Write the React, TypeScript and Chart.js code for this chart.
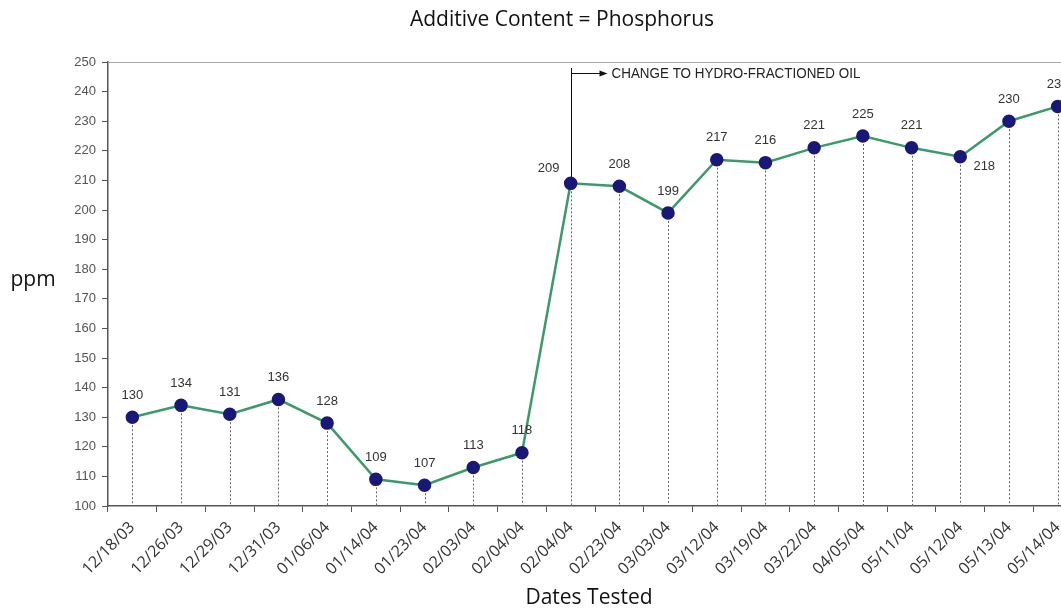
import React, { useEffect, useRef } from "react";
import { Chart, registerables } from "chart.js";

Chart.register(...registerables);

const categories = [
  "12/18/03", "12/26/03", "12/29/03", "12/31/03", "01/06/04", "01/14/04", "01/23/04",
  "02/03/04", "02/04/04", "02/04/04", "02/23/04", "03/03/04", "03/12/04", "03/19/04",
  "03/22/04", "04/05/04", "05/11/04", "05/12/04", "05/13/04", "05/14/04",
];
const phosphorus = [130, 134, 131, 136, 128, 109, 107, 113, 118, 209, 208, 199, 217, 216, 221, 225, 221, 218, 230, 235];
const yTicks = [100, 110, 120, 130, 140, 150, 160, 170, 180, 190, 200, 210, 220, 230, 240, 250];
const changeIndex = 9;
const changeLabel = "CHANGE TO HYDRO-FRACTIONED OIL";
const titleText = "Additive Content = Phosphorus";
const yTitle = "ppm";
const xTitle = "Dates Tested";

const FONT = "'Open Sans', 'DejaVu Sans', sans-serif";
const SMALL = "'Liberation Sans', Arial, sans-serif";

const overlay = {
  id: "overlay",
  beforeDatasetsDraw(chart: any) {
    const ctx = chart.ctx;
    const meta = chart.getDatasetMeta(0);
    const area = chart.chartArea;
    ctx.save();
    ctx.strokeStyle = "#666";
    ctx.lineWidth = 1;
    ctx.setLineDash([2, 2]);
    meta.data.forEach((pt: any) => {
      ctx.beginPath();
      ctx.moveTo(Math.round(pt.x) + 0.5, pt.y);
      ctx.lineTo(Math.round(pt.x) + 0.5, area.bottom);
      ctx.stroke();
    });
    ctx.setLineDash([]);
    // top border
    ctx.strokeStyle = "#aaa";
    ctx.beginPath();
    ctx.moveTo(area.left, area.top + 0.5);
    ctx.lineTo(area.right, area.top + 0.5);
    ctx.stroke();
    // annotation
    const p = meta.data[changeIndex];
    const x = Math.round(p.x) + 0.5;
    ctx.strokeStyle = "#111";
    ctx.beginPath();
    ctx.moveTo(x, area.top + 6);
    ctx.lineTo(x, p.y);
    ctx.stroke();
    const ay = area.top + 11.5;
    ctx.beginPath();
    ctx.moveTo(x, ay);
    ctx.lineTo(x + 30, ay);
    ctx.stroke();
    ctx.fillStyle = "#111";
    ctx.beginPath();
    ctx.moveTo(x + 36, ay);
    ctx.lineTo(x + 28, ay - 3);
    ctx.lineTo(x + 28, ay + 3);
    ctx.closePath();
    ctx.fill();
    ctx.font = `15px ${SMALL}`;
    ctx.textAlign = "left";
    ctx.textBaseline = "middle";
    ctx.fillStyle = "#222";
    ctx.translate(x + 40, ay);
    ctx.scale(0.895, 1);
    ctx.fillText(changeLabel, 0, 0);
    ctx.restore();
  },
  afterDatasetsDraw(chart: any) {
    const ctx = chart.ctx;
    const meta = chart.getDatasetMeta(0);
    ctx.save();
    ctx.font = `13px ${SMALL}`;
    ctx.fillStyle = "#333";
    ctx.textBaseline = "middle";
    ctx.textAlign = "center";
    meta.data.forEach((pt: any, i: number) => {
      const v = String(phosphorus[i]);
      if (i === changeIndex) {
        ctx.fillText(v, pt.x - 22, pt.y - 15);
      } else if (i === 17) {
        ctx.fillText(v, pt.x + 24, pt.y + 10);
      } else {
        ctx.fillText(v, pt.x, pt.y - 22);
      }
    });
    ctx.restore();
  },
  afterDraw(chart: any) {
    const ctx = chart.ctx;
    ctx.save();
    ctx.fillStyle = "#111";
    ctx.textBaseline = "middle";
    ctx.textAlign = "center";
    ctx.font = `21px ${FONT}`;
    ctx.fillText(titleText, 562, 20);
    ctx.fillText(yTitle, 33, 280);
    ctx.fillText(xTitle, 589, 598);
    ctx.restore();
  },
};

export default function App() {
  const ref = useRef<HTMLCanvasElement | null>(null);
  useEffect(() => {
    if (!ref.current) return;
    const chart = new Chart(ref.current, {
      type: "line",
      data: {
        labels: categories,
        datasets: [
          {
            data: phosphorus,
            borderColor: "#3a9a68",
            borderWidth: 2.5,
            pointBackgroundColor: "#1a1877",
            pointBorderColor: "#1a1877",
            pointRadius: 5.5,
            tension: 0,
          },
        ],
      },
      options: {
        animation: false,
        responsive: false,
        devicePixelRatio: 1,
        layout: { padding: { top: 62, left: 0, right: 8, bottom: 0 } },
        plugins: { legend: { display: false }, title: { display: false }, tooltip: { enabled: false } },
        scales: {
          x: {
            type: "category",
            offset: true,
            afterFit: (s: any) => { s.height = 105; },
            grid: { offset: true, drawOnChartArea: false, drawTicks: true, tickLength: 6, color: "#555" },
            border: { color: "#555", width: 1.5 },
            ticks: {
              autoSkip: false,
              minRotation: 45,
              maxRotation: 45,
              color: "#333",
              font: { family: FONT, size: 16 },
              padding: 6,
            },
          },
          y: {
            min: 100,
            max: 250,
            afterFit: (s: any) => { s.width = 108; },
            afterBuildTicks: (s: any) => { s.ticks = yTicks.map((v) => ({ value: v })); },
            grid: { drawOnChartArea: false, drawTicks: true, tickLength: 6, color: "#555" },
            border: { color: "#555", width: 1.5 },
            ticks: { color: "#555", font: { family: SMALL, size: 13 }, padding: 6 },
          },
        },
      },
      plugins: [overlay],
    } as any);
    return () => chart.destroy();
  }, []);
  return (
    <div style={{ position: "fixed", left: 0, top: 0, width: 1061, height: 611, overflow: "hidden", background: "#fff" }}>
      <canvas ref={ref} width={1090} height={611} style={{ width: 1090, height: 611, display: "block" }} />
    </div>
  );
}
